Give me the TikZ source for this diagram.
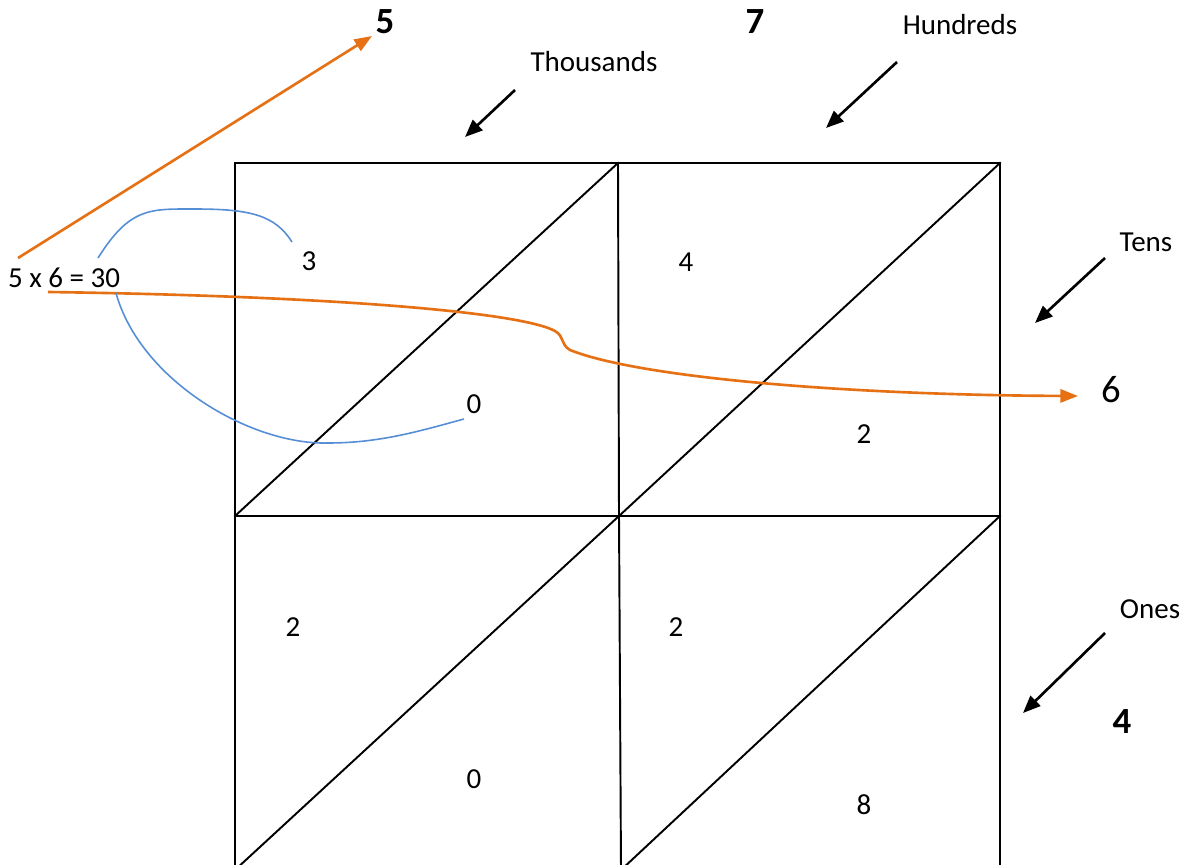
\documentclass[tikz,border=0pt]{standalone}
\usepackage{fontspec}
\setmainfont{Carlito}
\usepackage{tikz}
\usetikzlibrary{arrows.meta, positioning, calc}
\definecolor{myorange}{RGB}{230,112,20}
\definecolor{myblue}{RGB}{85,142,213}
\tikzset{
  gridline/.style={line width=1.1pt, color=black, line cap=rect},
  digit/.style={font=\fontsize{16.5}{19}\selectfont, inner sep=0pt},
  bigdigit/.style={font=\fontsize{21}{24}\selectfont\bfseries, inner sep=0pt},
  place/.style={font=\fontsize{16.5}{19}\selectfont, inner sep=0pt},
  arrow/.style={-{Triangle[length=10pt, width=8pt]}, line width=1.5pt, color=black},
  orangearrow/.style={-{Triangle[length=10pt, width=7.5pt]}, line width=1.5pt, color=myorange},
  bluecurve/.style={line width=0.9pt, color=myblue}
}

\begin{document}
\begin{tikzpicture}[x=0.02cm, y=-0.02cm]
  \clip (0,0) rectangle (1187,865);

  % Grid corners
  \coordinate (tl) at (235,163);
  \coordinate (tm) at (618,163);
  \coordinate (tr) at (1000,163);
  \coordinate (ml) at (235,516);
  \coordinate (mm) at (619,516);
  \coordinate (mr) at (1000,516);
  \coordinate (bl) at (235,870);
  \coordinate (bm) at (621,870);
  \coordinate (br) at (1000,870);

  % Lattice
  \draw[gridline] (tl) -- (tr);
  \draw[gridline] (ml) -- (mr);
  \draw[gridline] (tl) -- (bl);
  \draw[gridline] (tm) -- (mm) -- (bm);
  \draw[gridline] (tr) -- (br);
  \draw[gridline] (ml) -- (tm);
  \draw[gridline] (mm) -- (tr);
  \draw[gridline] (bl) -- (mm);
  \draw[gridline] (bm) -- (mr);

  % Factors
  \node[bigdigit] (five) at (385,22) {5};
  \node[bigdigit] (seven) at (755,22) {7};
  \node[font=\fontsize{22}{26}\selectfont, inner sep=0pt] (six) at (1111,390) {6};
  \node[bigdigit] (four) at (1122,722) {4};

  % Place values
  \node[place] (thousands) at (594,62) {Thousands};
  \node[place] (hundreds) at (960,25) {Hundreds};
  \node[place] (tens) at (1146,242) {Tens};
  \node[place] (ones) at (1150,609) {Ones};

  % Cell digits
  \node[digit] (c3) at (309,261) {3};
  \node[digit] (c0a) at (474,404) {0};
  \node[digit] (c4) at (686,262) {4};
  \node[digit] (c2a) at (864,434) {2};
  \node[digit] (c2b) at (293,627) {2};
  \node[digit] (c0b) at (474,779) {0};
  \node[digit] (c2c) at (676,627) {2};
  \node[digit] (c8) at (864,805) {8};

  \node[digit] (eq) at (64,278) {5 x 6 = 30};

  % Place value arrows
  \coordinate (thsA) at (515,90);  \coordinate (thsB) at (465,137);
  \coordinate (hunA) at (897,62);  \coordinate (hunB) at (826,128);
  \coordinate (tenA) at (1105,258); \coordinate (tenB) at (1035,323);
  \coordinate (oneA) at (1105,633); \coordinate (oneB) at (1023,713);
  \draw[arrow] (thsA) -- (thsB);
  \draw[arrow] (hunA) -- (hunB);
  \draw[arrow] (tenA) -- (tenB);
  \draw[arrow] (oneA) -- (oneB);

  % Orange paths
  \coordinate (upA) at (18,258);  \coordinate (upB) at (372,36);
  \coordinate (rtA) at (48,292);  \coordinate (rtB) at (1078,396);
  \draw[orangearrow] (upA) -- (upB);
  \draw[orangearrow] (rtA) .. controls (330,296) and (520,312) .. (555,331)
    .. controls (565,337) and (560,344) .. (570,350)
    .. controls (640,378) and (850,395) .. (rtB);

  % Blue curves
  \draw[bluecurve] (98,258) .. controls (130,207) and (150,209) .. (195,209)
    .. controls (250,209) and (275,215) .. (292,242);
  \draw[bluecurve] (116,293) .. controls (140,380) and (250,445) .. (328,443)
    .. controls (380,443) and (420,431) .. (464,419);
\end{tikzpicture}
\end{document}
